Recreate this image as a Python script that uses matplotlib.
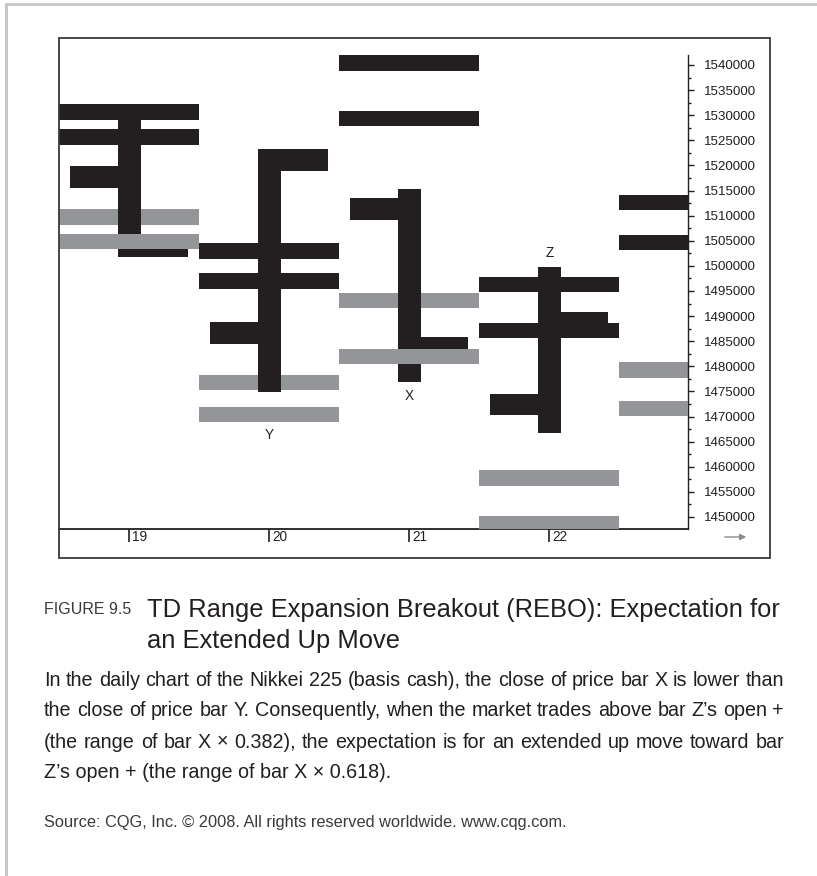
import numpy as np
import matplotlib.pyplot as plt
from matplotlib.lines import Line2D
from matplotlib.patches import Rectangle
from matplotlib.ticker import FixedLocator

plt.rcParams['font.family'] = ['Liberation Sans', 'DejaVu Sans']

# ==================== data ====================
days = np.array([19, 20, 21, 22])
bar_high = np.array([1530000, 1523210, 1515310, 1499840])
bar_low = np.array([1501830, 1474830, 1476820, 1466660])
bar_open = np.array([1517660, 1486600, 1511290, 1472400])
bar_close = np.array([1504020, 1521040, 1483590, 1488690])

level_days = np.array([19, 20, 21, 22, 23])
upper_1 = np.array([1530640, 1503000, 1540440, 1496290, 1512620])
upper_2 = np.array([1525700, 1496950, 1529350, 1487130, 1504660])
lower_1 = np.array([1509770, 1476780, 1493150, 1457720, 1479310])
lower_2 = np.array([1504820, 1470410, 1482000, 1448700, 1471600])

point_labels = ['Y', 'X', 'Z']
point_days = [20, 21, 22]
point_prices = [1466330, 1474150, 1502500]

y_major = np.arange(1450000, 1540001, 5000)
y_minor = np.arange(1452500, 1537501, 5000)

# ==================== style ====================
W, H = 817, 876
BLACK = '#231f20'
GRAY = '#939598'
LEVEL_T = 3090     # thickness of level bars (price units)
TICK_T = 4350      # thickness of open/close ticks
BODY_W = 0.167     # width of high-low bar (days)
TICK_W = 0.42      # reach of open/close ticks from bar centre


def px(x, y):
    return x / W, 1 - y / H


fig = plt.figure(figsize=(W / 100, H / 100), dpi=100)
ax = fig.add_axes([59 / W, 1 - 529 / H, (688 - 59) / W, (529 - 38) / H])

# levels: upper gray below the bars, lower gray above them
ax.barh(lower_1, 1.0, left=level_days - 0.5, height=LEVEL_T, color=GRAY, zorder=1)
ax.barh(upper_1, 1.0, left=level_days - 0.5, height=LEVEL_T, color=BLACK, zorder=2)
ax.barh(upper_2, 1.0, left=level_days - 0.5, height=LEVEL_T, color=BLACK, zorder=2)

# price bars
ax.bar(days, bar_high - bar_low, bottom=bar_low, width=BODY_W, color=BLACK, zorder=2)
ax.barh(bar_open, TICK_W - BODY_W / 2, left=days - TICK_W, height=TICK_T, color=BLACK, zorder=2)
ax.barh(bar_close, TICK_W - BODY_W / 2, left=days + BODY_W / 2, height=TICK_T, color=BLACK, zorder=2)

ax.barh(lower_2, 1.0, left=level_days - 0.5, height=LEVEL_T, color=GRAY, zorder=3)

for lab, d, p in zip(point_labels, point_days, point_prices):
    ax.text(d, p, lab, ha='center', va='center', fontsize=9.8, color=BLACK)

ax.set_xlim(18.498, 22.991)
ax.set_ylim(1447608, 1545376)

# axes look
for s in ['top', 'left']:
    ax.spines[s].set_visible(False)
ax.spines['bottom'].set_color(BLACK)
ax.spines['bottom'].set_linewidth(1.3)
ax.spines['right'].set_color(BLACK)
ax.spines['right'].set_linewidth(1.0)
ax.spines['right'].set_bounds(1447608, 1542000)

ax.yaxis.tick_right()
ax.yaxis.set_major_locator(FixedLocator(y_major))
ax.yaxis.set_minor_locator(FixedLocator(y_minor))
ax.set_yticklabels([str(v) for v in y_major])
ax.tick_params(axis='y', which='major', direction='out', length=4.5, width=1,
               pad=7, labelsize=9.6, colors=BLACK)
ax.tick_params(axis='y', which='minor', direction='out', length=2.5, width=1, colors=BLACK)

ax.set_xticks(days)
ax.tick_params(axis='x', direction='out', length=9, width=1.2, colors=BLACK, labelbottom=False)
for d in days:
    ax.text(d + 0.022, -0.0165, str(d), transform=ax.get_xaxis_transform(),
            ha='left', va='center', fontsize=9.8, color=BLACK)

# chart frame, arrow and page borders
x0, y0 = px(59, 558)
x1, y1 = px(770, 38)
fig.add_artist(Rectangle((x0, y0), x1 - x0, y1 - y0, transform=fig.transFigure,
                         fill=False, ec='#3a3a3a', lw=1.3))
ax.annotate('', xy=px(749, 537), xytext=px(722, 537), xycoords='figure fraction',
            textcoords='figure fraction', annotation_clip=False,
            arrowprops=dict(arrowstyle='-|>', color='#8a8a8a', lw=1, mutation_scale=9))
fig.add_artist(Line2D([6 / W, 6 / W], [0, 1 - 4 / H], color='#c8c8c8', lw=2.2))
fig.add_artist(Line2D([6 / W, 1], [1 - 4 / H, 1 - 4 / H], color='#c8c8c8', lw=2.2))

# ==================== caption ====================
fig.text(*px(44, 610), 'FIGURE 9.5', fontsize=11.5, color='#3a3a3a', va='center')
fig.text(*px(147, 610), 'TD Range Expansion Breakout (REBO): Expectation for',
         fontsize=18.4, color=BLACK, va='center')
fig.text(*px(147, 641), 'an Extended Up Move', fontsize=18.4, color=BLACK, va='center')

body = [
    'In the daily chart of the Nikkei 225 (basis cash), the close of price bar X is lower than',
    'the close of price bar Y. Consequently, when the market trades above bar Z\u2019s open +',
    '(the range of bar X \u00d7 0.382), the expectation is for an extended up move toward bar',
]
renderer = fig.canvas.get_renderer()
for i, line in enumerate(body):
    yy = 1 - (680 + 31 * i) / H
    words = line.split(' ')
    texts = [fig.text(0, yy, w, fontsize=14.2, color=BLACK, va='center') for w in words]
    widths = [t.get_window_extent(renderer).width for t in texts]
    gap = (784 - 44 - sum(widths)) / (len(words) - 1)
    xx = 44
    for t, w in zip(texts, widths):
        t.set_x(xx / W)
        xx += w + gap
fig.text(*px(44, 773), 'Z\u2019s open + (the range of bar X \u00d7 0.618).',
         fontsize=14.2, color=BLACK, va='center')
fig.text(*px(44, 823), 'Source: CQG, Inc. \u00a9 2008. All rights reserved worldwide. www.cqg.com.',
         fontsize=11.8, color='#3a3a3a', va='center')

fig.savefig('out.png', dpi=100)
